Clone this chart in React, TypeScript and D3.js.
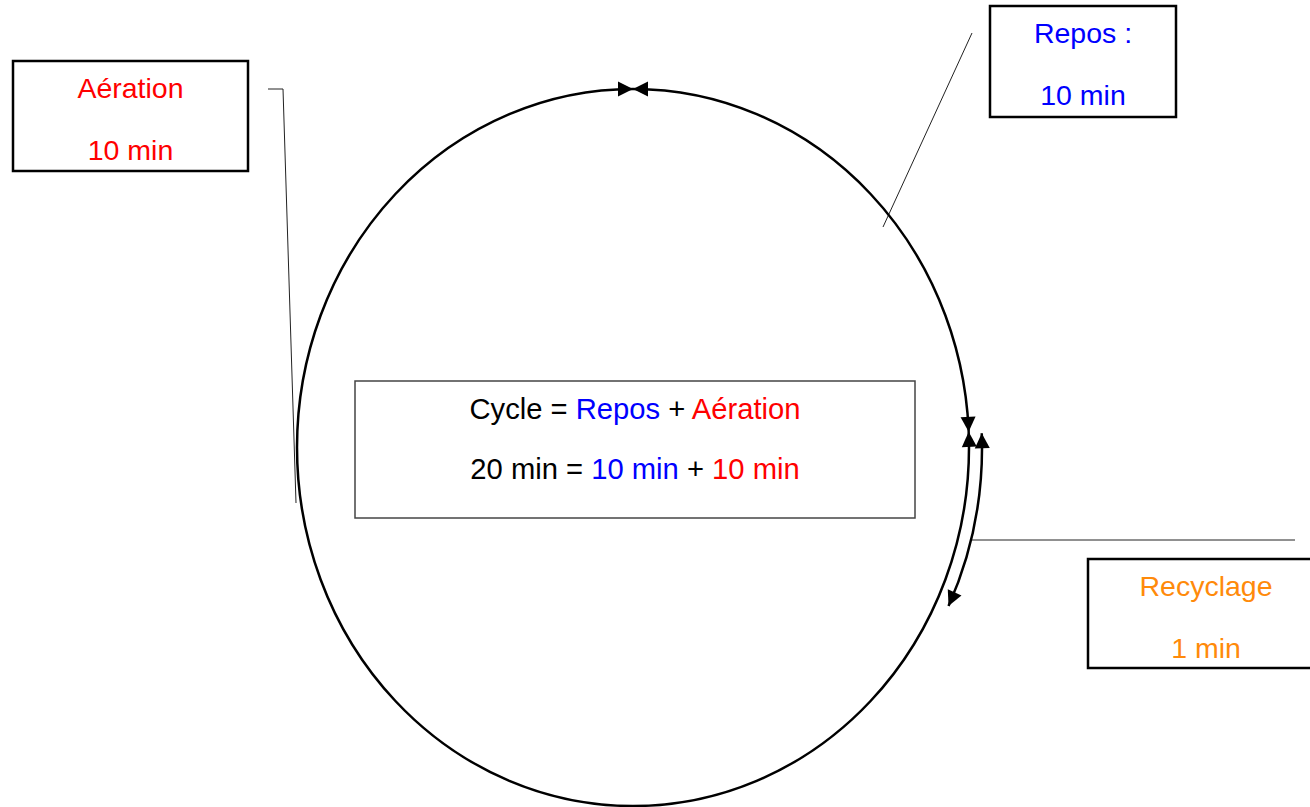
import React, { useEffect, useRef } from 'react';
import { select, line } from 'd3';

// cycle phases shown in the side boxes
const phaseLabels = ['Repos :', 'Aération', 'Recyclage'];
const phaseMinutes = [10, 10, 1];
const phaseColors = ['#0000ff', '#ff0000', '#ff8a0a'];

// formula in the middle box
const formulaTerms = ['Cycle', 'Repos', 'Aération'];
const formulaColors = ['#000000', '#0000ff', '#ff0000'];
const cycleMinutes = 20;

const WIDTH = 1310;
const HEIGHT = 807;
const FONT = '"Liberation Sans", Arial, Helvetica, sans-serif';
const FONT_SIZE = 28.5;
const FORMULA_SIZE = 29.2;

// ellipse of the cycle (angle measured from the top, clockwise)
const ring = { cx: 633, cy: 447.5, rx: 336, ry: 358.5 };
const outer = { rx: 349, ry: 371 };
const deg = Math.PI / 180;
const junctionTop = 0;
const junctionRight = 87.5 * deg;
const recycleStart = 87.8 * deg;
const recycleEnd = 115.3 * deg;

// boxes: Repos, Aération, Recyclage
const boxes = [
  { x: 990, y: 6, w: 186, h: 111 },
  { x: 13, y: 61, w: 235, h: 110 },
  { x: 1088, y: 559, w: 236, h: 109 },
];
const centerBox = { x: 355, y: 381, w: 560, h: 137 };

const pt = (rx: number, ry: number, t: number): [number, number] => [
  ring.cx + rx * Math.sin(t),
  ring.cy - ry * Math.cos(t),
];

export default function App() {
  const svgRef = useRef<SVGSVGElement>(null);

  useEffect(() => {
    const svg = select(svgRef.current);
    svg.selectAll('*').remove();

    svg.append('rect').attr('width', WIDTH).attr('height', HEIGHT).attr('fill', '#fff');

    // arrow head with its tip at (x,y) pointing along the ellipse
    const arrow = (rx: number, ry: number, t: number, dir: number) => {
      const [x, y] = pt(rx, ry, t);
      let dx = rx * Math.cos(t) * dir;
      let dy = ry * Math.sin(t) * dir;
      const n = Math.hypot(dx, dy);
      dx /= n;
      dy /= n;
      const L = 15, hw = 7.5;
      const bx = x - L * dx, by = y - L * dy;
      svg.append('path')
        .attr('d', line()([[x, y], [bx - hw * dy, by + hw * dx], [bx + hw * dy, by - hw * dx]]) + 'Z')
        .attr('fill', '#000');
    };

    // leader lines
    const leaders: [number, number][][] = [
      [[972, 33], [883, 227]],
      [[268, 89], [283, 89], [296, 503]],
      [[972, 540], [1295, 540]],
    ];
    leaders.forEach((pts) => {
      svg.append('path')
        .attr('d', line()(pts))
        .attr('fill', 'none')
        .attr('stroke', '#222')
        .attr('stroke-width', 1);
    });

    // main cycle
    svg.append('ellipse')
      .attr('cx', ring.cx).attr('cy', ring.cy)
      .attr('rx', ring.rx).attr('ry', ring.ry)
      .attr('fill', 'none')
      .attr('stroke', '#000')
      .attr('stroke-width', 2.5);

    // recycle arc outside
    const [sx, sy] = pt(outer.rx, outer.ry, recycleStart);
    const [ex, ey] = pt(outer.rx, outer.ry, recycleEnd);
    svg.append('path')
      .attr('d', `M${sx},${sy} A${outer.rx},${outer.ry} 0 0 1 ${ex},${ey}`)
      .attr('fill', 'none')
      .attr('stroke', '#000')
      .attr('stroke-width', 2.5);

    // arrow heads
    arrow(ring.rx, ring.ry, junctionTop, -1);
    arrow(ring.rx, ring.ry, junctionTop, 1);
    arrow(ring.rx, ring.ry, junctionRight, 1);
    arrow(ring.rx, ring.ry, junctionRight, -1);
    arrow(outer.rx, outer.ry, recycleStart, -1);
    arrow(outer.rx, outer.ry, recycleEnd, 1);

    // side boxes
    boxes.forEach((b, i) => {
      svg.append('rect')
        .attr('x', b.x).attr('y', b.y).attr('width', b.w).attr('height', b.h)
        .attr('fill', '#fff')
        .attr('stroke', '#000')
        .attr('stroke-width', 2.5);
      const g = svg.append('g')
        .attr('font-family', FONT)
        .attr('font-size', FONT_SIZE)
        .attr('fill', phaseColors[i])
        .attr('text-anchor', 'middle');
      const cx = b.x + b.w / 2;
      g.append('text').attr('x', cx).attr('y', b.y + 37).text(phaseLabels[i]);
      g.append('text').attr('x', cx).attr('y', b.y + 99).text(`${phaseMinutes[i]} min`);
    });

    // center box with the formula
    svg.append('rect')
      .attr('x', centerBox.x).attr('y', centerBox.y)
      .attr('width', centerBox.w).attr('height', centerBox.h)
      .attr('fill', '#fff')
      .attr('stroke', '#444')
      .attr('stroke-width', 1.5);

    const ccx = centerBox.x + centerBox.w / 2;
    const row1 = svg.append('text')
      .attr('x', ccx).attr('y', centerBox.y + 38)
      .attr('font-family', FONT).attr('font-size', FORMULA_SIZE)
      .attr('text-anchor', 'middle');
    const row2 = svg.append('text')
      .attr('x', ccx).attr('y', centerBox.y + 98)
      .attr('font-family', FONT).attr('font-size', FORMULA_SIZE)
      .attr('text-anchor', 'middle');

    const row2Terms = [`${cycleMinutes} min`, `${phaseMinutes[0]} min`, `${phaseMinutes[1]} min`];
    const ops = [' = ', ' + '];
    [row1, row2].forEach((row, r) => {
      const terms = r === 0 ? formulaTerms : row2Terms;
      terms.forEach((term, i) => {
        row.append('tspan').attr('fill', formulaColors[i]).text(term);
        if (i < ops.length) row.append('tspan').attr('fill', '#000').text(ops[i]);
      });
    });
  }, []);

  return (
    <svg
      ref={svgRef}
      width={WIDTH}
      height={HEIGHT}
      style={{ position: 'absolute', top: 0, left: 0, display: 'block' }}
    />
  );
}
